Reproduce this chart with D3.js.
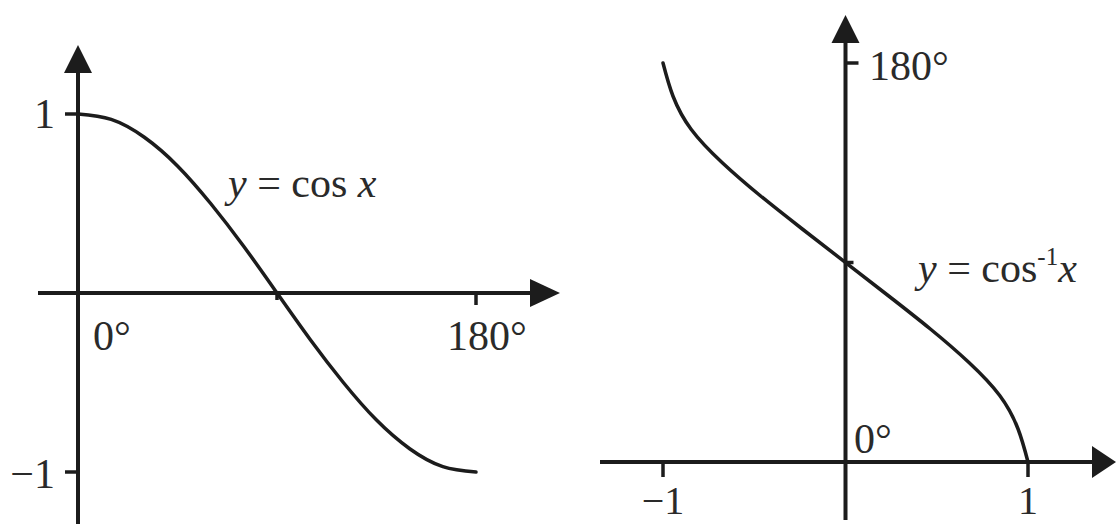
<!DOCTYPE html>
<html>
<head>
<meta charset="utf-8">
<script src="https://cdn.jsdelivr.net/npm/d3@7"></script>
<style>
  html, body { margin: 0; padding: 0; background: #ffffff; }
  svg { display: block; }
  text { font-family: "Liberation Serif", "Times New Roman", serif; fill: #2a2a2a; }
</style>
</head>
<body>
<svg id="chart" width="1117" height="524"></svg>
<script>
// y = cos x, sampled every 15° from 0° to 180°
const cosDegrees = [0, 15, 30, 45, 60, 75, 90, 105, 120, 135, 150, 165, 180];
const cosValues  = [1, 0.97, 0.87, 0.71, 0.5, 0.26, 0, -0.26, -0.5, -0.71, -0.87, -0.97, -1];

// y = cos⁻¹x, sampled every 15° from 180° down to 0°
const acosInputs  = [-1, -0.945, -0.845, -0.675, -0.465, -0.235, 0, 0.235, 0.465, 0.675, 0.845, 0.945, 1];
const acosDegrees = [180, 165, 150, 135, 120, 105, 90, 75, 60, 45, 30, 15, 0];

// Tick labels
const leftXTicks  = [{v: 0, label: "0°"}, {v: 180, label: "180°"}];
const leftYTicks  = [{v: 1, label: "1"}, {v: -1, label: "−1"}];
const rightXTicks = [{v: -1, label: "−1"}, {v: 1, label: "1"}];
const rightYTicks = [{v: 180, label: "180°"}, {v: 0, label: "0°"}];

const ink = "#1c1c1c";
const svg = d3.select("#chart");

function arrowHead(g, tip, dir, len, half) {
  // dir: "up" or "right"
  let pts;
  if (dir === "up") {
    pts = [[tip[0], tip[1]], [tip[0] - half, tip[1] + len], [tip[0] + half, tip[1] + len]];
  } else {
    pts = [[tip[0], tip[1]], [tip[0] - len, tip[1] - half], [tip[0] - len, tip[1] + half]];
  }
  g.append("path").attr("d", d3.line()(pts) + "Z").attr("fill", ink);
}

// ---------- Left panel: y = cos x ----------
{
  const x = d3.scaleLinear().domain([0, 180]).range([78, 476]);
  const y = d3.scaleLinear().domain([-1, 1]).range([472, 114]);
  const g = svg.append("g");
  const x0 = x(0), y0 = y(0);

  // axes
  g.append("line").attr("x1", x0).attr("x2", x0).attr("y1", 524).attr("y2", 60)
    .attr("stroke", ink).attr("stroke-width", 4);
  arrowHead(g, [x0, 45], "up", 28, 14);
  g.append("line").attr("x1", 38).attr("x2", 540).attr("y1", y0).attr("y2", y0)
    .attr("stroke", ink).attr("stroke-width", 4);
  arrowHead(g, [560, y0], "right", 30, 14);

  // ticks
  leftYTicks.forEach(t => {
    g.append("line").attr("x1", x0 - 13).attr("x2", x0).attr("y1", y(t.v)).attr("y2", y(t.v))
      .attr("stroke", ink).attr("stroke-width", 3.5);
  });
  g.append("line").attr("x1", x(180)).attr("x2", x(180)).attr("y1", y0).attr("y2", y0 + 12)
    .attr("stroke", ink).attr("stroke-width", 3.5);
  g.append("line").attr("x1", x(90)).attr("x2", x(90)).attr("y1", y0).attr("y2", y0 + 7)
    .attr("stroke", ink).attr("stroke-width", 3.5);

  // curve
  const pts = cosDegrees.map((d, i) => [x(d), y(cosValues[i])]);
  g.append("path").attr("d", d3.line().curve(d3.curveNatural)(pts))
    .attr("fill", "none").attr("stroke", ink).attr("stroke-width", 3.5).attr("stroke-linecap", "round");

  // labels
  g.append("text").attr("x", 55).attr("y", y(1) + 14).attr("text-anchor", "end")
    .attr("font-size", 42).text(leftYTicks[0].label);
  g.append("text").attr("x", 55).attr("y", y(-1) + 16).attr("text-anchor", "end")
    .attr("font-size", 42).text(leftYTicks[1].label);
  g.append("text").attr("x", 93).attr("y", 350).attr("font-size", 42).text(leftXTicks[0].label);
  g.append("text").attr("x", 447).attr("y", 350).attr("font-size", 42).text(leftXTicks[1].label);

  const lab = g.append("text").attr("x", 228).attr("y", 197).attr("font-size", 42);
  lab.append("tspan").attr("font-style", "italic").text("y");
  lab.append("tspan").text(" = cos ");
  lab.append("tspan").attr("font-style", "italic").text("x");
}

// ---------- Right panel: y = cos⁻¹x ----------
{
  const x = d3.scaleLinear().domain([-1, 1]).range([663, 1028]);
  const y = d3.scaleLinear().domain([0, 180]).range([462, 63]);
  const g = svg.append("g");
  const x0 = x(0), y0 = y(0);

  // axes
  g.append("line").attr("x1", x0).attr("x2", x0).attr("y1", 520).attr("y2", 30)
    .attr("stroke", ink).attr("stroke-width", 4);
  arrowHead(g, [x0, 15], "up", 28, 14);
  g.append("line").attr("x1", 600).attr("x2", 1095).attr("y1", y0).attr("y2", y0)
    .attr("stroke", ink).attr("stroke-width", 4);
  arrowHead(g, [1116, y0], "right", 24, 16);

  // ticks
  rightXTicks.forEach(t => {
    g.append("line").attr("x1", x(t.v)).attr("x2", x(t.v)).attr("y1", y0).attr("y2", y0 + 15)
      .attr("stroke", ink).attr("stroke-width", 3.5);
  });
  g.append("line").attr("x1", x0).attr("x2", x0 + 13).attr("y1", y(180)).attr("y2", y(180))
    .attr("stroke", ink).attr("stroke-width", 3.5);
  g.append("line").attr("x1", x0).attr("x2", x0 + 8).attr("y1", y(90)).attr("y2", y(90))
    .attr("stroke", ink).attr("stroke-width", 3.5);

  // curve
  const pts = acosInputs.map((v, i) => [x(v), y(acosDegrees[i])]);
  g.append("path").attr("d", d3.line().curve(d3.curveNatural)(pts))
    .attr("fill", "none").attr("stroke", ink).attr("stroke-width", 3.5).attr("stroke-linecap", "round");

  // labels
  g.append("text").attr("x", 869).attr("y", y(180) + 17).attr("font-size", 42).text(rightYTicks[0].label);
  g.append("text").attr("x", 854).attr("y", 453).attr("font-size", 42).text(rightYTicks[1].label);
  rightXTicks.forEach(t => {
    g.append("text").attr("x", x(t.v)).attr("y", 514).attr("text-anchor", "middle")
      .attr("font-size", 40).text(t.label);
  });

  const lab = g.append("text").attr("x", 918).attr("y", 282).attr("font-size", 42);
  lab.append("tspan").attr("font-style", "italic").text("y");
  lab.append("tspan").text(" = cos");
  lab.append("tspan").attr("font-size", 25).attr("dy", -17).text("-1");
  lab.append("tspan").attr("font-style", "italic").attr("dy", 17).text("x");
}
</script>
</body>
</html>
